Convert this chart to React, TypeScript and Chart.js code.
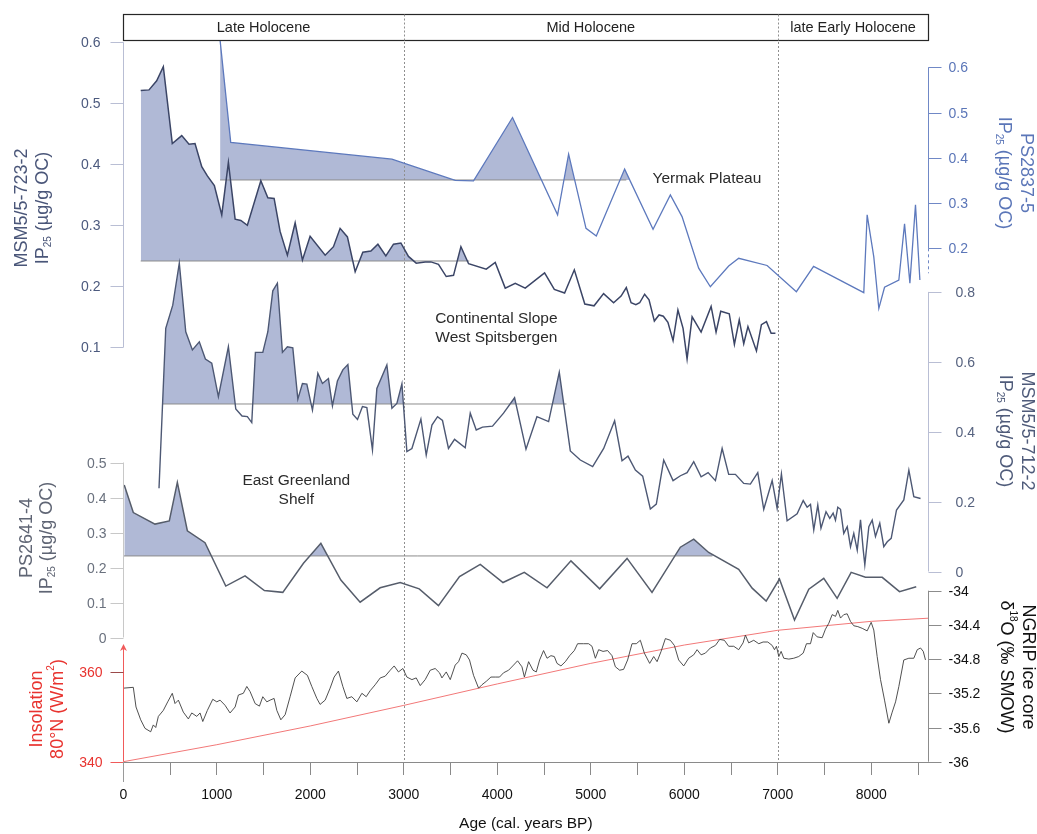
import React, { useEffect, useRef } from 'react';
import { Chart, registerables } from 'chart.js';

Chart.register(...registerables);

const FONT = "'Liberation Sans', Arial, Helvetica, sans-serif";

// ---------------- Age axis (cal. years BP) ----------------
const AGE_MIN = 0;
const AGE_MAX = 8610;
const AGE_TICKS = [0, 500, 1000, 1500, 2000, 2500, 3000, 3500, 4000, 4500, 5000, 5500, 6000, 6500, 7000, 7500, 8000, 8500];

// ---------------- Holocene stages ----------------
const STAGE_NAMES = ['Late Holocene', 'Mid Holocene', 'late Early Holocene'];
const STAGE_BOUNDS = [0, 3000, 7000, AGE_MAX];

// ---------------- MSM5/5-723-2 IP25 (µg/g OC) ----------------
const msm723Age = [186, 275, 357, 428, 524, 625, 703, 767, 839, 899, 974, 1053, 1124, 1196, 1257, 1327, 1471, 1546, 1613, 1677, 1755, 1838, 1916, 1998, 2159, 2248, 2319, 2397, 2480, 2562, 2648, 2723, 2808, 2890, 2969, 3050, 3133, 3229, 3290, 3371, 3454, 3532, 3611, 3693, 3882, 3978, 4085, 4192, 4299, 4506, 4610, 4720, 4824, 4936, 5035, 5137, 5244, 5324, 5380, 5431, 5482, 5523, 5576, 5623, 5680, 5730, 5776, 5825, 5880, 5932, 5987, 6030, 6084, 6180, 6287, 6340, 6390, 6481, 6536, 6588, 6636, 6681, 6772, 6825, 6879, 6929, 6975];
const msm723Ip25 = [0.521, 0.522, 0.537, 0.560, 0.434, 0.447, 0.433, 0.434, 0.396, 0.381, 0.365, 0.317, 0.403, 0.310, 0.308, 0.300, 0.373, 0.345, 0.344, 0.290, 0.251, 0.304, 0.243, 0.282, 0.251, 0.265, 0.295, 0.281, 0.224, 0.256, 0.258, 0.269, 0.250, 0.269, 0.271, 0.249, 0.238, 0.240, 0.240, 0.236, 0.216, 0.218, 0.265, 0.237, 0.228, 0.239, 0.197, 0.205, 0.197, 0.222, 0.195, 0.189, 0.227, 0.171, 0.168, 0.188, 0.173, 0.184, 0.198, 0.173, 0.170, 0.173, 0.187, 0.178, 0.143, 0.153, 0.151, 0.141, 0.111, 0.161, 0.131, 0.081, 0.150, 0.125, 0.167, 0.125, 0.159, 0.155, 0.105, 0.145, 0.106, 0.134, 0.094, 0.137, 0.142, 0.123, 0.123];
const MSM723_MEAN = 0.2415;
const MSM723_MEAN_SPAN = [186, 3700];
const MSM723_TICKS = [0.1, 0.2, 0.3, 0.4, 0.5, 0.6];

// ---------------- PS2837-5 IP25 (µg/g OC) ----------------
const ps2837Age = [1035, 1149, 2873, 3550, 3746, 4163, 4645, 4763, 4949, 5059, 5362, 5666, 5851, 5976, 6154, 6279, 6475, 6582, 6886, 7199, 7383, 7920, 7956, 8027, 8081, 8142, 8295, 8356, 8413, 8473, 8520];
const ps2837Ip25 = [0.66, 0.434, 0.397, 0.350, 0.349, 0.489, 0.274, 0.408, 0.244, 0.227, 0.375, 0.242, 0.318, 0.270, 0.156, 0.115, 0.161, 0.178, 0.162, 0.104, 0.160, 0.102, 0.274, 0.181, 0.067, 0.114, 0.130, 0.254, 0.123, 0.296, 0.130];
const PS2837_MEAN = 0.351;
const PS2837_MEAN_SPAN = [1035, 5380];
const PS2837_TICKS = [0.2, 0.3, 0.4, 0.5, 0.6];

// ---------------- MSM5/5-712-2 IP25 (µg/g OC) ----------------
const msm712Age = [382, 454, 529, 599, 668, 739, 813, 878, 946, 1017, 1124, 1203, 1270, 1327, 1374, 1413, 1492, 1546, 1599, 1648, 1702, 1755, 1813, 1867, 1916, 1963, 2023, 2081, 2130, 2194, 2237, 2290, 2348, 2402, 2455, 2505, 2558, 2605, 2665, 2712, 2819, 2873, 2926, 2980, 3033, 3087, 3183, 3240, 3301, 3361, 3414, 3478, 3543, 3657, 3711, 3775, 3842, 3949, 4067, 4185, 4307, 4424, 4549, 4663, 4781, 4888, 5020, 5138, 5255, 5334, 5398, 5477, 5555, 5637, 5701, 5780, 5880, 5959, 6030, 6101, 6180, 6255, 6333, 6405, 6475, 6547, 6636, 6707, 6786, 6850, 6940, 6993, 7039, 7100, 7207, 7272, 7314, 7350, 7385, 7428, 7462, 7516, 7556, 7592, 7617, 7642, 7671, 7706, 7743, 7778, 7813, 7850, 7885, 7914, 7931, 7974, 8010, 8045, 8091, 8134, 8171, 8213, 8270, 8348, 8402, 8455, 8527];
const msm712Ip25 = [0.238, 0.696, 0.762, 0.882, 0.686, 0.634, 0.657, 0.608, 0.596, 0.500, 0.643, 0.465, 0.445, 0.443, 0.426, 0.627, 0.627, 0.686, 0.803, 0.825, 0.627, 0.643, 0.640, 0.493, 0.538, 0.536, 0.462, 0.567, 0.538, 0.552, 0.474, 0.545, 0.577, 0.592, 0.450, 0.435, 0.472, 0.469, 0.348, 0.524, 0.591, 0.467, 0.481, 0.537, 0.343, 0.352, 0.436, 0.333, 0.419, 0.443, 0.432, 0.352, 0.378, 0.354, 0.453, 0.405, 0.413, 0.416, 0.453, 0.497, 0.350, 0.443, 0.429, 0.570, 0.345, 0.319, 0.300, 0.352, 0.431, 0.317, 0.330, 0.290, 0.273, 0.179, 0.193, 0.319, 0.260, 0.274, 0.283, 0.314, 0.271, 0.283, 0.260, 0.352, 0.278, 0.278, 0.252, 0.250, 0.283, 0.178, 0.260, 0.181, 0.279, 0.145, 0.165, 0.203, 0.184, 0.192, 0.119, 0.190, 0.124, 0.171, 0.152, 0.167, 0.147, 0.184, 0.178, 0.109, 0.128, 0.071, 0.109, 0.061, 0.148, 0.062, 0.019, 0.128, 0.147, 0.100, 0.138, 0.071, 0.085, 0.095, 0.176, 0.205, 0.290, 0.214, 0.209];
const MSM712_MEAN = 0.4793;
const MSM712_MEAN_SPAN = [421, 4740];
const MSM712_TICKS = [0, 0.2, 0.4, 0.6, 0.8];

// ---------------- PS2641-4 IP25 (µg/g OC) ----------------
const ps2641Age = [10, 107, 339, 492, 578, 685, 874, 1096, 1302, 1509, 1706, 1927, 2113, 2327, 2533, 2747, 2962, 3165, 3371, 3596, 3818, 4061, 4289, 4532, 4788, 5095, 5388, 5655, 5958, 6101, 6261, 6582, 6726, 6876, 7018, 7179, 7332, 7492, 7635, 7785, 7938, 8117, 8302, 8481];
const ps2641Ip25 = [0.436, 0.357, 0.324, 0.333, 0.443, 0.305, 0.271, 0.147, 0.176, 0.134, 0.129, 0.212, 0.269, 0.164, 0.101, 0.142, 0.157, 0.139, 0.091, 0.174, 0.209, 0.157, 0.186, 0.142, 0.219, 0.139, 0.226, 0.129, 0.258, 0.281, 0.243, 0.195, 0.141, 0.104, 0.167, 0.050, 0.138, 0.169, 0.112, 0.186, 0.172, 0.172, 0.131, 0.145];
const PS2641_MEAN = 0.233;
const PS2641_MEAN_SPAN = [0, 6300];
const PS2641_TICKS = [0, 0.1, 0.2, 0.3, 0.4, 0.5];

// ---------------- NGRIP δ18O (‰ SMOW) ----------------
const ngripAge = [0, 107, 136, 186, 232, 293, 321, 347, 375, 428, 475, 524, 553, 589, 642, 696, 732, 786, 821, 850, 899, 957, 1000, 1035, 1088, 1142, 1196, 1231, 1284, 1321, 1356, 1410, 1456, 1492, 1535, 1570, 1613, 1642, 1685, 1731, 1784, 1838, 1909, 1969, 2016, 2070, 2105, 2159, 2212, 2255, 2301, 2348, 2391, 2444, 2498, 2552, 2598, 2640, 2694, 2748, 2801, 2855, 2897, 2943, 2990, 3033, 3087, 3133, 3176, 3229, 3283, 3336, 3382, 3408, 3454, 3497, 3550, 3586, 3622, 3668, 3703, 3746, 3800, 3836, 3882, 3932, 3978, 4024, 4067, 4121, 4174, 4217, 4264, 4290, 4335, 4382, 4417, 4453, 4495, 4532, 4574, 4610, 4639, 4681, 4728, 4774, 4824, 4859, 4923, 4977, 5013, 5049, 5084, 5131, 5180, 5227, 5263, 5309, 5351, 5394, 5441, 5487, 5530, 5573, 5630, 5673, 5709, 5752, 5798, 5851, 5894, 5940, 5994, 6047, 6101, 6137, 6180, 6226, 6279, 6333, 6379, 6429, 6475, 6529, 6582, 6629, 6654, 6689, 6743, 6797, 6843, 6893, 6940, 6965, 6986, 7011, 7036, 7064, 7118, 7171, 7224, 7272, 7307, 7350, 7379, 7421, 7475, 7510, 7546, 7582, 7618, 7642, 7671, 7706, 7742, 7778, 7813, 7856, 7903, 7956, 7999, 8027, 8063, 8099, 8142, 8188, 8224, 8260, 8295, 8348, 8402, 8455, 8492, 8527, 8556, 8580];
const ngripD18O = [-35.14, -35.13, -35.36, -35.51, -35.61, -35.65, -35.57, -35.60, -35.47, -35.40, -35.30, -35.20, -35.32, -35.28, -35.42, -35.50, -35.43, -35.47, -35.43, -35.53, -35.40, -35.27, -35.30, -35.28, -35.34, -35.43, -35.36, -35.22, -35.20, -35.12, -35.18, -35.32, -35.35, -35.24, -35.30, -35.28, -35.26, -35.40, -35.51, -35.45, -35.24, -35.02, -34.94, -34.99, -35.12, -35.26, -35.33, -35.28, -35.14, -35.01, -34.94, -35.12, -35.26, -35.24, -35.30, -35.20, -35.24, -35.17, -35.10, -35.02, -35.00, -34.93, -34.88, -34.95, -34.91, -35.01, -35.04, -35.02, -35.11, -35.04, -34.93, -34.91, -34.96, -35.02, -34.95, -35.04, -34.87, -34.83, -34.73, -34.75, -34.81, -34.99, -35.14, -35.10, -35.06, -35.01, -35.01, -35.01, -34.96, -34.93, -34.87, -34.82, -34.89, -35.01, -34.83, -34.93, -34.95, -34.81, -34.70, -34.79, -34.76, -34.77, -34.85, -34.88, -34.83, -34.76, -34.70, -34.62, -34.62, -34.62, -34.65, -34.79, -34.69, -34.71, -34.70, -34.76, -34.89, -34.93, -34.92, -34.81, -34.62, -34.62, -34.58, -34.73, -34.85, -34.77, -34.83, -34.71, -34.56, -34.58, -34.64, -34.81, -34.88, -34.79, -34.75, -34.69, -34.75, -34.73, -34.67, -34.64, -34.57, -34.58, -34.65, -34.65, -34.69, -34.61, -34.52, -34.61, -34.58, -34.62, -34.60, -34.60, -34.64, -34.69, -34.65, -34.77, -34.71, -34.79, -34.80, -34.79, -34.77, -34.73, -34.62, -34.62, -34.49, -34.54, -34.55, -34.45, -34.38, -34.28, -34.30, -34.23, -34.32, -34.28, -34.27, -34.36, -34.41, -34.42, -34.44, -34.47, -34.37, -34.46, -34.77, -35.04, -35.28, -35.55, -35.42, -35.30, -35.12, -34.81, -34.79, -34.79, -34.69, -34.67, -34.71, -34.81];
const NGRIP_TICKS = [-36, -35.6, -35.2, -34.8, -34.4, -34];

// ---------------- Insolation 80°N (W/m²) ----------------
const insolAge = [0, 1000, 2000, 3000, 4000, 5000, 6000, 7000, 8000, 8610];
const insolWm2 = [340, 343.8, 348.0, 352.6, 357.4, 362.0, 366.1, 369.4, 371.4, 372.1];
const INSOL_TICKS = [340, 360];

// ---------------- Colours ----------------
const FILL = '#b0b9d6';
const MEAN_LINE = '#8c8c8c';

// ---------------- Plot frame ----------------
const CANVAS_W = 1037;
const CANVAS_H = 834;
const AREA_LEFT = 123.3;
const AREA_RIGHT = 928.3;
const AREA_TOP = 40;
const AREA_BOTTOM = 762;
const HEADER_TOP = 14;

// value range of a y scale whose value v0 sits at pixel px0 with pxPerUnit pixels per unit
function frame(v0: number, px0: number, pxPerUnit: number) {
  return { min: v0 - (AREA_BOTTOM - px0) / pxPerUnit, max: v0 + (px0 - AREA_TOP) / pxPerUnit };
}

type Part = { t: string; s?: number; dy?: number };
const IP25: Part[] = [{ t: 'IP' }, { t: '25', s: 10, dy: 5 }, { t: ' (µg/g OC)' }];

type PanelAxis = {
  id: string;
  side: 'left' | 'right';
  ticks: number[];
  from: number;
  to: number;
  dashTo?: number;
  line: string;
  tickColors?: string[];
  label: string;
  gap: number;
  arrow?: boolean;
  title: Part[][];
  titleX: number[];
  titleY: number;
  titleColor: string;
};

const PANEL_AXES: PanelAxis[] = [
  {
    id: 'y723', side: 'left', ticks: MSM723_TICKS, from: 0.1, to: 0.6, line: '#b9bed4', label: '#4c5a7e', gap: 10,
    title: [[{ t: 'MSM5/5-723-2' }], IP25], titleX: [22, 43], titleY: 208, titleColor: '#4a5679',
  },
  {
    id: 'y2641', side: 'left', ticks: PS2641_TICKS, from: 0, to: 0.5, line: '#c8c8c8', label: '#6a717e', gap: 4,
    title: [[{ t: 'PS2641-4' }], IP25], titleX: [27, 47], titleY: 538, titleColor: '#5f6574',
  },
  {
    id: 'yIns', side: 'left', ticks: INSOL_TICKS, from: 340, to: 365.9, line: '#f05a5a', tickColors: ['#f05a5a', '#9b4a4a'],
    label: '#e8332f', gap: 8, arrow: true,
    title: [[{ t: 'Insolation' }], [{ t: '80°N (W/m' }, { t: '2', s: 10, dy: -7 }, { t: ')' }]],
    titleX: [37, 58], titleY: 709, titleColor: '#e8332f',
  },
  {
    id: 'y2837', side: 'right', ticks: PS2837_TICKS, from: 0.2, to: 0.6, dashTo: 0.145, line: '#7088c6', label: '#5b76b8', gap: 7,
    title: [[{ t: 'PS2837-5' }], IP25], titleX: [1026, 1004], titleY: 173, titleColor: '#5b76b8',
  },
  {
    id: 'y712', side: 'right', ticks: MSM712_TICKS, from: 0, to: 0.8, line: '#b9bed4', label: '#56627f', gap: 14,
    title: [[{ t: 'MSM5/5-712-2' }], IP25], titleX: [1027, 1004.5], titleY: 431, titleColor: '#4f5b7a',
  },
  {
    id: 'yNgrip', side: 'right', ticks: NGRIP_TICKS, from: -36, to: -34, line: '#8c8c8c', label: '#111111', gap: 7,
    title: [[{ t: 'NGRIP ice core' }], [{ t: 'δ' }, { t: '18', s: 10, dy: -7 }, { t: 'O (‰ SMOW)' }]],
    titleX: [1028, 1006], titleY: 667, titleColor: '#111111',
  },
];

const TICK_LEN = 13;

function drawRich(ctx: CanvasRenderingContext2D, parts: Part[], cx: number, cy: number, angle: number, color: string, base: number) {
  ctx.save();
  ctx.translate(cx, cy);
  ctx.rotate(angle);
  ctx.fillStyle = color;
  ctx.textBaseline = 'middle';
  ctx.textAlign = 'left';
  let w = 0;
  for (const p of parts) {
    ctx.font = `${p.s ?? base}px ${FONT}`;
    w += ctx.measureText(p.t).width;
  }
  let x = -w / 2;
  for (const p of parts) {
    ctx.font = `${p.s ?? base}px ${FONT}`;
    ctx.fillText(p.t, x, p.dy ?? 0);
    x += ctx.measureText(p.t).width;
  }
  ctx.restore();
}

const panelPlugin = {
  id: 'panelDecor',
  beforeDatasetsDraw(chart: any) {
    const { ctx, chartArea, scales } = chart;
    const xs = scales.x;
    ctx.save();
    ctx.strokeStyle = '#8f8f8f';
    ctx.lineWidth = 1;
    ctx.setLineDash([2, 2]);
    for (const b of STAGE_BOUNDS.slice(1, -1)) {
      const x = Math.round(xs.getPixelForValue(b)) + 0.5;
      ctx.beginPath();
      ctx.moveTo(x, HEADER_TOP);
      ctx.lineTo(x, chartArea.bottom);
      ctx.stroke();
    }
    ctx.restore();
  },
  afterDatasetsDraw(chart: any) {
    const { ctx, chartArea, scales } = chart;
    const xs = scales.x;
    ctx.save();

    // stage header
    const left = Math.round(chartArea.left) + 0.5;
    const right = Math.round(chartArea.right) + 0.5;
    const top = HEADER_TOP + 0.5;
    const bottom = Math.round(chartArea.top) + 0.5;
    ctx.fillStyle = '#ffffff';
    ctx.fillRect(left, top, right - left, bottom - top);
    ctx.strokeStyle = '#262626';
    ctx.lineWidth = 1.2;
    ctx.strokeRect(left, top, right - left, bottom - top);
    ctx.strokeStyle = '#8f8f8f';
    ctx.lineWidth = 1;
    ctx.setLineDash([2, 2]);
    for (const b of STAGE_BOUNDS.slice(1, -1)) {
      const x = Math.round(xs.getPixelForValue(b)) + 0.5;
      ctx.beginPath();
      ctx.moveTo(x, top);
      ctx.lineTo(x, bottom);
      ctx.stroke();
    }
    ctx.setLineDash([]);
    ctx.fillStyle = '#222222';
    ctx.font = `14.5px ${FONT}`;
    ctx.textAlign = 'center';
    ctx.textBaseline = 'middle';
    STAGE_NAMES.forEach((name, i) => {
      const a = xs.getPixelForValue(STAGE_BOUNDS[i]);
      const b = Math.min(xs.getPixelForValue(STAGE_BOUNDS[i + 1]), chartArea.right);
      ctx.fillText(name, (a + b) / 2, (top + bottom) / 2 + 0.5);
    });

    // panel axes
    for (const ax of PANEL_AXES) {
      const sc = scales[ax.id];
      const x0 = ax.side === 'left' ? Math.round(chartArea.left) + 0.5 : Math.round(chartArea.right) + 0.5;
      const dir = ax.side === 'left' ? -1 : 1;
      ctx.lineWidth = 1;
      ctx.strokeStyle = ax.line;
      ctx.beginPath();
      ctx.moveTo(x0, sc.getPixelForValue(ax.from));
      ctx.lineTo(x0, sc.getPixelForValue(ax.to));
      ctx.stroke();
      if (ax.dashTo !== undefined) {
        ctx.setLineDash([3, 3]);
        ctx.beginPath();
        ctx.moveTo(x0, sc.getPixelForValue(ax.from));
        ctx.lineTo(x0, sc.getPixelForValue(ax.dashTo));
        ctx.stroke();
        ctx.setLineDash([]);
      }
      if (ax.arrow) {
        const yt = sc.getPixelForValue(ax.to);
        ctx.fillStyle = ax.line;
        ctx.beginPath();
        ctx.moveTo(x0, yt - 2);
        ctx.lineTo(x0 - 3.5, yt + 5);
        ctx.lineTo(x0, yt + 3);
        ctx.lineTo(x0 + 3.5, yt + 5);
        ctx.closePath();
        ctx.fill();
      }
      ctx.font = `14px ${FONT}`;
      ctx.textBaseline = 'middle';
      ctx.textAlign = ax.side === 'left' ? 'right' : 'left';
      ax.ticks.forEach((v, i) => {
        const y = Math.round(sc.getPixelForValue(v)) + 0.5;
        ctx.strokeStyle = ax.tickColors ? ax.tickColors[i] : ax.line;
        ctx.beginPath();
        ctx.moveTo(x0, y);
        ctx.lineTo(x0 + dir * TICK_LEN, y);
        ctx.stroke();
        ctx.fillStyle = ax.label;
        ctx.fillText(String(v), x0 + dir * (TICK_LEN + ax.gap), y + 0.5);
      });
      ax.title.forEach((parts, i) => {
        drawRich(ctx, parts, ax.titleX[i], ax.titleY, ax.side === 'left' ? -Math.PI / 2 : Math.PI / 2, ax.titleColor, 18);
      });
    }

    // longer tick at the origin of the age axis
    ctx.strokeStyle = '#9a9a9a';
    ctx.beginPath();
    ctx.moveTo(left, chartArea.bottom);
    ctx.lineTo(left, chartArea.bottom + 20);
    ctx.stroke();

    // site labels
    ctx.fillStyle = '#2b2b2b';
    ctx.font = `15.5px ${FONT}`;
    ctx.textBaseline = 'middle';
    ctx.textAlign = 'left';
    ctx.fillText('Yermak Plateau', xs.getPixelForValue(5660), scales.y2837.getPixelForValue(PS2837_MEAN) - 1);
    ctx.textAlign = 'center';
    const cx1 = xs.getPixelForValue(3990);
    const cy1 = scales.y712.getPixelForValue(0.695);
    ctx.fillText('Continental Slope', cx1, cy1 - 9.5);
    ctx.fillText('West Spitsbergen', cx1, cy1 + 9.5);
    const cx2 = xs.getPixelForValue(1850);
    const cy2 = scales.y2641.getPixelForValue(0.42);
    ctx.fillText('East Greenland', cx2, cy2 - 9.5);
    ctx.fillText('Shelf', cx2, cy2 + 9.5);

    ctx.restore();
  },
};

const pts = (xv: number[], yv: number[]) => xv.map((x, i) => ({ x, y: yv[i] }));
const meanLine = (span: number[], v: number) => [{ x: span[0], y: v }, { x: span[1], y: v }];

export default function App() {
  const ref = useRef<HTMLCanvasElement>(null);

  useEffect(() => {
    const canvas = ref.current;
    if (!canvas) return;

    const series = (data: any[], axis: string, color: string, width: number, mean: number | null, order: number) => ({
      data,
      yAxisID: axis,
      borderColor: color,
      borderWidth: width,
      pointRadius: 0,
      tension: 0,
      order,
      fill: mean === null ? false : { target: { value: mean }, above: FILL, below: 'rgba(0,0,0,0)' },
    });

    const chart = new Chart(canvas, {
      type: 'line',
      data: {
        datasets: [
          series(pts(ps2837Age, ps2837Ip25), 'y2837', '#5d79bd', 1.3, PS2837_MEAN, 2),
          series(pts(msm723Age, msm723Ip25), 'y723', '#3b4566', 1.5, MSM723_MEAN, 1),
          series(pts(msm712Age, msm712Ip25), 'y712', '#4d5874', 1.4, MSM712_MEAN, 1),
          series(pts(ps2641Age, ps2641Ip25), 'y2641', '#565d6b', 1.5, PS2641_MEAN, 1),
          series(meanLine(MSM723_MEAN_SPAN, MSM723_MEAN), 'y723', MEAN_LINE, 1, null, 6),
          series(meanLine(PS2837_MEAN_SPAN, PS2837_MEAN), 'y2837', MEAN_LINE, 1, null, 6),
          series(meanLine(MSM712_MEAN_SPAN, MSM712_MEAN), 'y712', MEAN_LINE, 1, null, 6),
          series(meanLine(PS2641_MEAN_SPAN, PS2641_MEAN), 'y2641', MEAN_LINE, 1, null, 6),
          series(pts(insolAge, insolWm2), 'yIns', '#f27878', 1, null, 5),
          series(pts(ngripAge, ngripD18O), 'yNgrip', '#3c3c3c', 0.9, null, 4),
        ],
      },
      options: {
        responsive: false,
        animation: false,
        events: [],
        layout: {
          padding: { left: AREA_LEFT, right: CANVAS_W - AREA_RIGHT, top: AREA_TOP, bottom: 0 },
        },
        plugins: {
          legend: { display: false },
          tooltip: { enabled: false },
          filler: { drawTime: 'beforeDatasetsDraw' },
        },
        scales: {
          x: {
            type: 'linear',
            min: AGE_MIN,
            max: AGE_MAX,
            afterFit: (s: any) => { s.height = CANVAS_H - AREA_BOTTOM; },
            afterBuildTicks: (s: any) => { s.ticks = AGE_TICKS.map((v) => ({ value: v })); },
            grid: { display: true, drawOnChartArea: false, drawTicks: true, tickLength: TICK_LEN, color: '#8a8a8a', lineWidth: 1 },
            border: { display: true, color: '#8a8a8a', width: 1 },
            ticks: {
              autoSkip: false,
              maxRotation: 0,
              padding: 12,
              color: '#111111',
              font: { family: FONT, size: 14 },
              callback: (v: any) => (Number(v) % 1000 === 0 ? String(v) : ''),
            },
            title: {
              display: true,
              text: 'Age (cal. years BP)',
              color: '#111111',
              font: { family: FONT, size: 15.5 },
              padding: { top: 0, bottom: 1 },
            },
          },
          y723: { type: 'linear', display: false, ...frame(0, 408.3, 610) },
          y2837: { type: 'linear', display: false, ...frame(0, 338.8, 452.5) },
          y712: { type: 'linear', display: false, ...frame(0, 571.5, 349.5) },
          y2641: { type: 'linear', display: false, ...frame(0, 637.5, 350) },
          yNgrip: { type: 'linear', display: false, ...frame(-36, 761.7, 85.5) },
          yIns: { type: 'linear', display: false, ...frame(340, 761.7, 4.47) },
        },
      },
      plugins: [panelPlugin],
    } as any);

    return () => chart.destroy();
  }, []);

  return (
    <div style={{ position: 'absolute', left: 0, top: 0, width: CANVAS_W, height: CANVAS_H, background: '#ffffff' }}>
      <canvas ref={ref} width={CANVAS_W} height={CANVAS_H} style={{ display: 'block' }} />
    </div>
  );
}
